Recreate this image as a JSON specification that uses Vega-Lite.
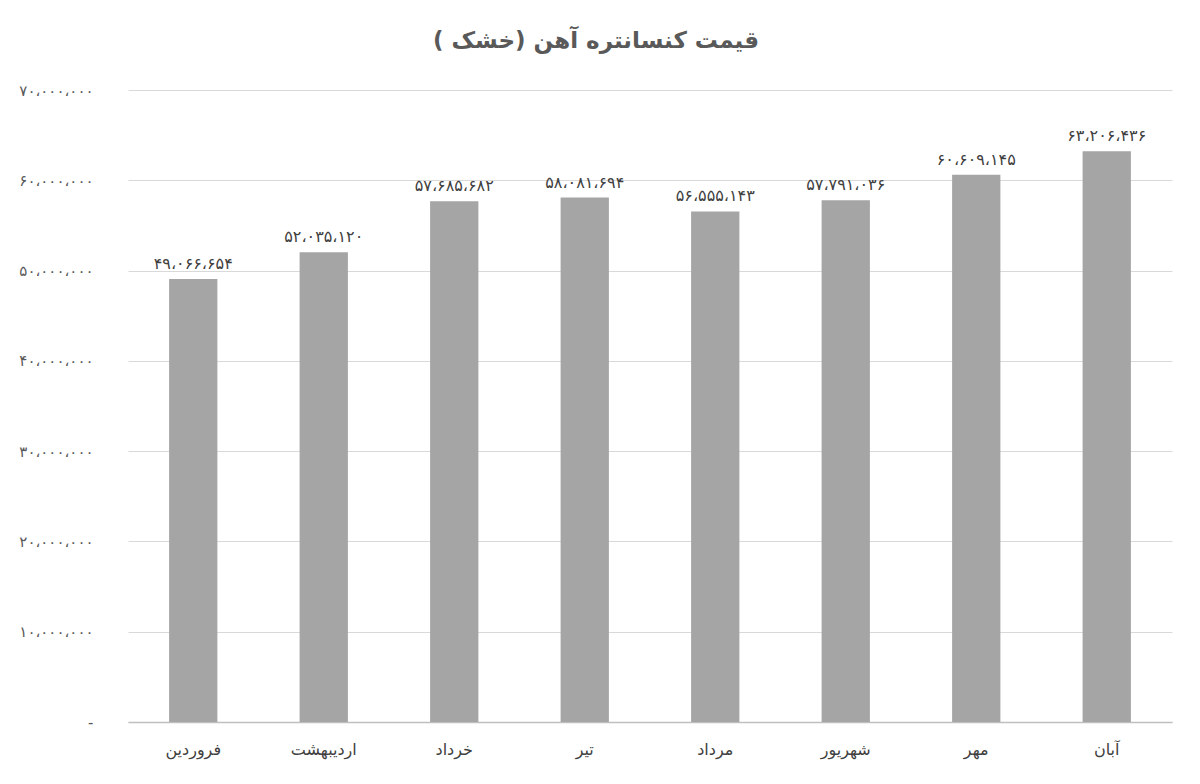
{
  "$schema": "https://vega.github.io/schema/vega-lite/v6.json",
  "width": 1044,
  "height": 632,
  "padding": {"left": 18, "top": 30, "right": 20, "bottom": 10},
  "background": "white",
  "title": {
    "text": "قیمت کنسانتره آهن (خشک )",
    "font": "DejaVu Sans",
    "fontSize": 23,
    "fontWeight": "bold",
    "color": "#595959",
    "offset": 30,
    "dx": -54
  },
  "data": {
    "values": [
      {"month": "فروردین", "price": 49066654, "label": "۴۹،۰۶۶،۶۵۴"},
      {"month": "اردیبهشت", "price": 52035120, "label": "۵۲،۰۳۵،۱۲۰"},
      {"month": "خرداد", "price": 57685682, "label": "۵۷،۶۸۵،۶۸۲"},
      {"month": "تیر", "price": 58081694, "label": "۵۸،۰۸۱،۶۹۴"},
      {"month": "مرداد", "price": 56555143, "label": "۵۶،۵۵۵،۱۴۳"},
      {"month": "شهریور", "price": 57791036, "label": "۵۷،۷۹۱،۰۳۶"},
      {"month": "مهر", "price": 60609145, "label": "۶۰،۶۰۹،۱۴۵"},
      {"month": "آبان", "price": 63206436, "label": "۶۳،۲۰۶،۴۳۶"}
    ]
  },
  "encoding": {
    "x": {
      "field": "month",
      "type": "nominal",
      "sort": null,
      "scale": {"paddingInner": 0.63, "paddingOuter": 0.315},
      "axis": {
        "title": null,
        "labelAngle": 0,
        "labelFont": "DejaVu Sans",
        "labelFontSize": 16,
        "labelColor": "#404040",
        "labelPadding": 19,
        "ticks": false,
        "domainColor": "#BFBFBF",
        "domainWidth": 1.5
      }
    },
    "y": {
      "field": "price",
      "type": "quantitative",
      "scale": {"domain": [0, 70000000]},
      "axis": {
        "title": null,
        "values": [0, 10000000, 20000000, 30000000, 40000000, 50000000, 60000000, 70000000],
        "labelExpr": "datum.value == 0 ? '-' : replace(replace(replace(replace(replace(replace(replace(replace(replace(replace(replace(format(datum.value, ','), regexp(',', 'g'), '،'), regexp('0', 'g'), '۰'), regexp('1', 'g'), '۱'), regexp('2', 'g'), '۲'), regexp('3', 'g'), '۳'), regexp('4', 'g'), '۴'), regexp('5', 'g'), '۵'), regexp('6', 'g'), '۶'), regexp('7', 'g'), '۷'), regexp('8', 'g'), '۸'), regexp('9', 'g'), '۹')",
        "labelFont": "DejaVu Sans",
        "labelFontSize": 15,
        "labelColor": "#595959",
        "labelPadding": 35,
        "ticks": false,
        "domain": false,
        "gridColor": "#D9D9D9",
        "gridWidth": 1.2
      }
    }
  },
  "layer": [
    {"mark": {"type": "bar", "color": "#A5A5A5"}},
    {
      "mark": {"type": "text", "dy": -15, "font": "DejaVu Sans", "fontSize": 16, "color": "#404040"},
      "encoding": {"text": {"field": "label"}}
    }
  ],
  "config": {"view": {"stroke": null}}
}
